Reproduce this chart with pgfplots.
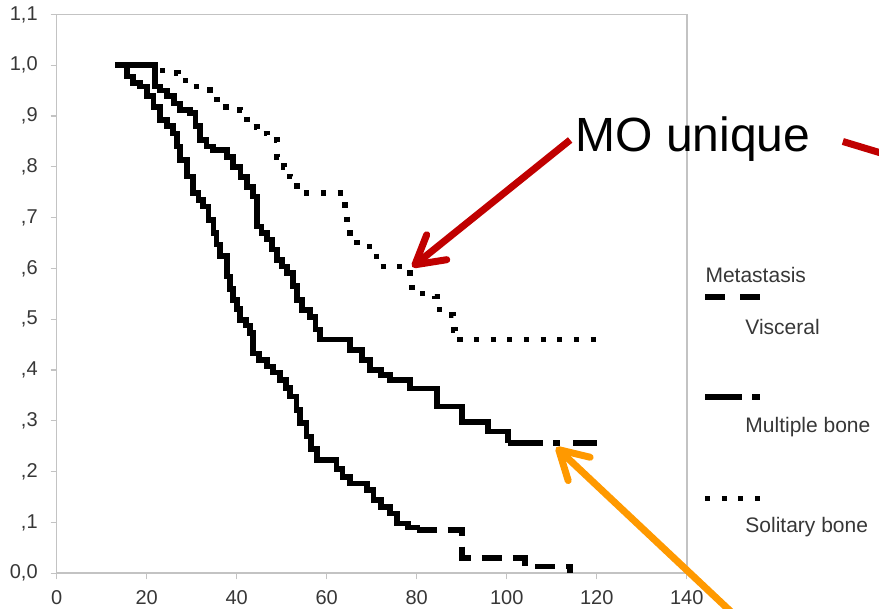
\documentclass[border=0pt]{standalone}
\usepackage{fontspec}
\setmainfont{Liberation Sans}
\usepackage{pgfplots}
\pgfplotsset{compat=1.18}
\usetikzlibrary{arrows.meta}
\definecolor{framegray}{RGB}{195,195,195}
\definecolor{txtgray}{RGB}{55,55,55}
\definecolor{mored}{RGB}{192,0,0}
\definecolor{orng}{RGB}{255,153,0}

\pgfplotstableread{
t s
13 1.0
15.6 0.978
17 0.965
18.5 0.958
20 0.94
21.5 0.918
23 0.892
24.5 0.88
25.9 0.866
26.7 0.84
27.4 0.813
29 0.781
30.3 0.749
31.5 0.735
32.5 0.722
33.7 0.695
34.8 0.67
35.5 0.647
36.3 0.624
37.8 0.584
38.5 0.56
39.2 0.538
40 0.52
40.7 0.499
42 0.488
43 0.473
43.6 0.433
45 0.42
46.7 0.407
48 0.395
49.6 0.381
51 0.365
51.8 0.348
53.3 0.322
54 0.296
55.5 0.269
56.5 0.245
57.8 0.223
62.2 0.205
63.5 0.19
65.2 0.177
68.9 0.164
70.4 0.144
72 0.13
74 0.118
75.6 0.098
78 0.09
80 0.085
}\visceralA
\pgfplotstableread{
t s
80 0.085
90.1 0.03
104 0.013
114 0.0
}\visceralB
\pgfplotstableread{
t s
13 1.0
21.8 0.958
23 0.95
24.5 0.939
26 0.925
27.4 0.912
29.6 0.906
30.8 0.88
31.9 0.853
33.3 0.84
34.7 0.833
37.8 0.82
39.2 0.80
40.8 0.78
42.3 0.761
43.6 0.742
44.5 0.683
45.5 0.67
46.7 0.657
47.8 0.637
48.9 0.617
50 0.604
51.2 0.591
52.5 0.565
53.4 0.538
54.5 0.518
56.3 0.505
57.5 0.48
58.5 0.46
65.2 0.44
67.8 0.42
69.6 0.40
72 0.39
74 0.38
78.5 0.364
84.5 0.328
90 0.298
95.8 0.279
100.3 0.257
}\multipleA
\pgfplotstableread{
t s
100.3 0.257
120 0.257
}\multipleB
\pgfplotstableread{
t s
13 1.0
22.5 0.99
24.5 0.985
27 0.97
29.6 0.958
32 0.952
34 0.946
35.6 0.918
40.7 0.912
42.3 0.879
44.5 0.866
46.7 0.853
48.9 0.82
50.5 0.80
51.8 0.781
53.4 0.749
63.6 0.735
64 0.702
64.5 0.67
66.7 0.643
71.1 0.604
78.5 0.571
79 0.551
84 0.545
84.5 0.519
87.8 0.509
88.2 0.479
88.5 0.46
120 0.46
}\solitary

\begin{document}
\begin{tikzpicture}
\useasboundingbox (-28.35pt,-17.85pt) rectangle (411.15pt,286.65pt);
\begin{axis}[
  at={(0pt,0pt)}, anchor=south west,
  scale only axis, width=315pt, height=279.4pt,
  xmin=0, xmax=140, ymin=0, ymax=1.1,
  clip=false,
  axis line style={framegray, line width=0.8pt},
  xtick={0,20,40,60,80,100,120,140},
  ytick={0,0.1,0.2,0.3,0.4,0.5,0.6,0.7,0.8,0.9,1.0,1.1},
  yticklabels={{0,0},{,1},{,2},{,3},{,4},{,5},{,6},{,7},{,8},{,9},{1,0},{1,1}},
  tick align=outside, major tick length=3pt,
  tick style={framegray, line width=0.6pt},
  xtick pos=bottom, ytick pos=left,
  ticklabel style={font=\fontsize{10}{12}\selectfont, text=txtgray},
  /pgf/number format/assume math mode=true,
  xticklabel style={yshift=-2.2pt},
  yticklabel style={xshift=-3pt},
]
\addplot[black, line width=2.8pt, const plot, line cap=butt] table[x=t,y=s] {\visceralA};
\addplot[black, line width=2.8pt, const plot, line cap=butt, dash pattern=on 10pt off 5.5pt] table[x=t,y=s] {\visceralB};
\addplot[black, line width=2.8pt, const plot, line cap=butt] table[x=t,y=s] {\multipleA};
\addplot[black, line width=2.8pt, const plot, line cap=butt, dash pattern=on 17.5pt off 5pt on 3.5pt off 6.5pt] table[x=t,y=s] {\multipleB};
\addplot[black, line width=2.8pt, const plot, line cap=butt, dash pattern=on 2.6pt off 5.73pt] table[x=t,y=s] {\solitary};

% legend
\node[anchor=west, inner sep=0pt, text=txtgray, font=\fontsize{10.5}{12}\selectfont] at (axis cs:144.1,0.588) {Metastasis};
\draw[black, line width=2.6pt, dash pattern=on 10pt off 7.5pt] (axis cs:144.1,0.544) -- (axis cs:156.3,0.544);
\node[anchor=west, inner sep=0pt, text=txtgray, font=\fontsize{10.5}{12}\selectfont] at (axis cs:152.96,0.485) {Visceral};
\draw[black, line width=2.6pt, dash pattern=on 18.5pt off 5pt on 4pt off 20pt] (axis cs:144.1,0.347) -- (axis cs:156.3,0.347);
\node[anchor=west, inner sep=0pt, text=txtgray, font=\fontsize{10.5}{12}\selectfont] at (axis cs:152.96,0.288) {Multiple bone};
\draw[black, line width=2.6pt, dash pattern=on 2.5pt off 5.83pt] (axis cs:144.1,0.148) -- (axis cs:156.3,0.148);
\node[anchor=west, inner sep=0pt, text=txtgray, font=\fontsize{10.5}{12}\selectfont] at (axis cs:152.96,0.091) {Solitary bone};

% annotations
\node[anchor=base west, inner sep=0pt, font=\fontsize{24}{28}\selectfont] at (axis cs:115.2,0.830) {MO unique};
\draw[mored, line width=3.5pt, -{Straight Barb[length=14pt,width=16pt,round]}] (axis cs:114.1,0.853) -- (axis cs:79.0,0.603);
\draw[mored, line width=3.5pt] (axis cs:174.7,0.850) -- (axis cs:187.4,0.816);
\draw[orng, line width=3.5pt, -{Straight Barb[length=14pt,width=16pt,round]}] (axis cs:153,-0.102) -- (axis cs:111.0,0.248);
\end{axis}
\end{tikzpicture}
\end{document}
